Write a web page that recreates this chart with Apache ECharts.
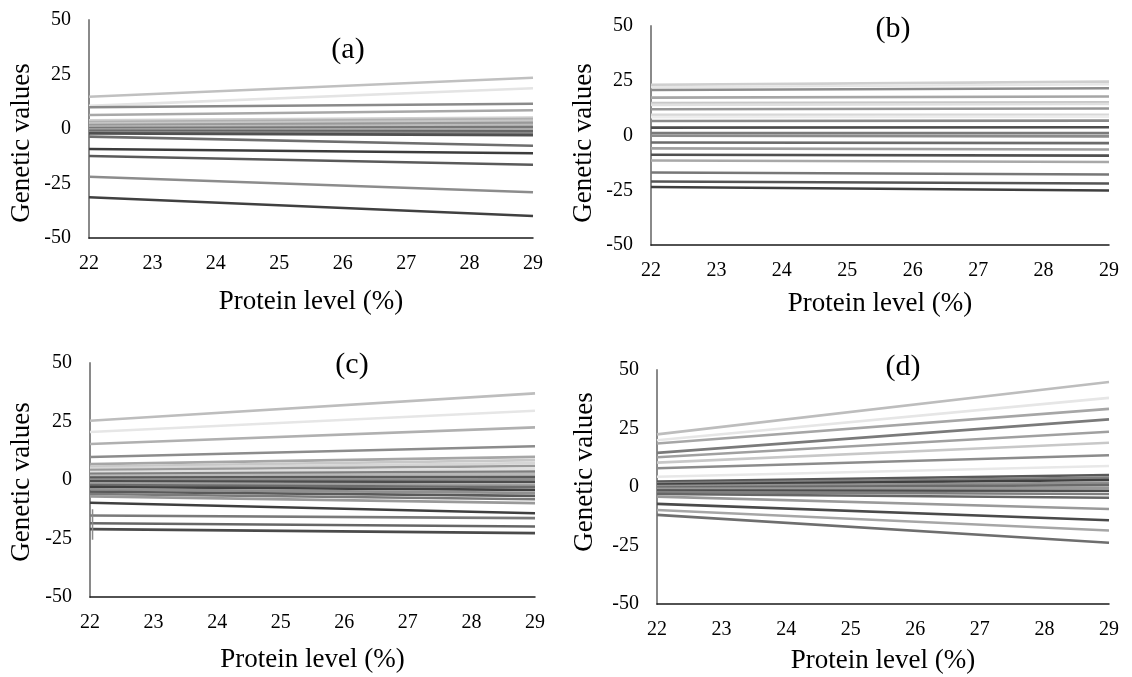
<!DOCTYPE html>
<html>
<head>
<meta charset="utf-8">
<script src="https://cdn.jsdelivr.net/npm/echarts@6/dist/echarts.min.js"></script>
<style>
html,body{margin:0;padding:0;background:#fff;}
#chart{width:1132px;height:677px;}
</style>
</head>
<body>
<div id="chart"></div>
<script>
// ---- data ----
const proteinLevels = [22, 29];
const xTickLabels = [22, 23, 24, 25, 26, 27, 28, 29];
const yTickLabels = [-50, -25, 0, 25, 50];
const panelLabels = ['(a)', '(b)', '(c)', '(d)'];
const xTitle = 'Protein level (%)';
const yTitle = 'Genetic values';

const aStart = [14.8, 10.6, 10.0, 6.4, 4.0, 3.2, 2.5, 1.8, 1.0, 0.4, -0.2, -0.8, -1.4, -2.0, -3.5, -9.2, -12.4, -21.9, -31.3];
const aEnd   = [23.5, 18.7, 11.6, 8.6, 5.2, 4.6, 3.8, 2.8, 1.8, 0.9, -0.1, -1.0, -2.0, -2.8, -7.7, -11.1, -16.4, -29.0, -39.9];

const bStart = [23.1, 22.0, 20.8, 17.3, 14.8, 14.0, 12.0, 9.4, 8.4, 6.6, 3.6, 1.1, -0.1, -3.2, -5.9, -8.8, -11.4, -16.9, -21.0, -23.5];
const bEnd   = [24.6, 23.4, 21.6, 17.8, 15.2, 14.4, 12.3, 9.4, 8.6, 6.8, 3.8, 1.1, -0.4, -3.5, -6.4, -9.2, -12.1, -17.8, -21.9, -25.1];

const cStart = [25.3, 20.5, 15.4, 9.8, 6.8, 5.8, 5.0, 4.2, 3.4, 2.6, 1.8, 1.0, 0.2, -0.6, -1.4, -2.2, -3.0, -4.0, -5.0, -6.0, -7.0, -9.7, -15.2, -18.5, -21.0];
const cEnd   = [37.0, 29.6, 22.5, 14.4, 9.9, 8.5, 7.2, 6.0, 4.8, 3.6, 2.6, 1.4, 0.3, -0.8, -2.0, -3.0, -4.2, -5.5, -6.8, -8.2, -9.9, -14.2, -16.3, -19.9, -22.7];
// short vertical stroke near the left edge of panel (c)
const cTickX = 22.04;
const cTickY = [-12.5, -25.5];

const dStart = [22.5, 20.0, 18.6, 14.6, 12.7, 10.4, 8.0, 4.4, 2.3, 1.6, 1.0, 0.4, -0.2, -0.8, -1.5, -2.2, -3.0, -4.1, -7.2, -9.8, -11.9];
const dEnd   = [44.9, 38.1, 33.4, 28.9, 23.6, 18.9, 13.6, 9.0, 5.1, 4.0, 3.0, 1.8, 0.8, -0.4, -1.6, -3.0, -4.6, -9.4, -14.2, -18.6, -23.8];

// ---- styles ----
const aColors = ['#c0c0c0','#e4e4e4','#8a8a8a','#a8a8a8','#d0d0d0','#b0b0b0','#c8c8c8','#999999','#bbbbbb','#777777','#aaaaaa','#666666','#888888','#505050','#6e6e6e','#3c3c3c','#5a5a5a','#8c8c8c','#404040'];
const bColors = ['#cfcfcf','#e6e6e6','#8c8c8c','#a6a6a6','#c8c8c8','#e0e0e0','#969696','#d8d8d8','#ededed','#8a8a8a','#4d4d4d','#7a7a7a','#8c8c8c','#6b6b6b','#a0a0a0','#505050','#a8a8a8','#777777','#555555','#3f3f3f'];
const cColors = ['#bdbdbd','#e6e6e6','#b0b0b0','#8c8c8c','#a6a6a6','#c8c8c8','#d6d6d6','#9a9a9a','#e0e0e0','#7f7f7f','#b8b8b8','#595959','#8c8c8c','#4d4d4d','#a0a0a0','#6b6b6b','#404040','#909090','#5a5a5a','#7a7a7a','#999999','#3f3f3f','#7a7a7a','#666666','#4a4a4a'];
const dColors = ['#bdbdbd','#e6e6e6','#a6a6a6','#7a7a7a','#a0a0a0','#c8c8c8','#8c8c8c','#e8e8e8','#595959','#7f7f7f','#404040','#909090','#6b6b6b','#999999','#4d4d4d','#808080','#666666','#9a9a9a','#4a4a4a','#a6a6a6','#6e6e6e'];

const FONT = '"Liberation Serif", "Times New Roman", serif';

const panels = [
  {start: aStart, end: aEnd, colors: aColors, grid: {left: 89, top: 20, width: 444, height: 218}, label: {x: 348, y: 50}, yName: {x: 22, y: 143}, xGap: 50},
  {start: bStart, end: bEnd, colors: bColors, grid: {left: 651, top: 26, width: 458, height: 219}, label: {x: 893, y: 29}, yName: {x: 584, y: 143}, xGap: 45},
  {start: cStart, end: cEnd, colors: cColors, grid: {left: 90, top: 363, width: 445, height: 234}, label: {x: 352, y: 365}, yName: {x: 22, y: 482}, xGap: 49},
  {start: dStart, end: dEnd, colors: dColors, grid: {left: 657, top: 370, width: 452, height: 234}, label: {x: 903, y: 367}, yName: {x: 585, y: 472}, xGap: 43}
];

const grid = [], xAxis = [], yAxis = [], series = [], graphic = [];
panels.forEach((p, i) => {
  grid.push(Object.assign({containLabel: false}, p.grid));
  xAxis.push({
    type: 'value', gridIndex: i, min: xTickLabels[0], max: xTickLabels[xTickLabels.length - 1], interval: 1,
    name: xTitle, nameLocation: 'middle', nameGap: p.xGap,
    nameTextStyle: {fontFamily: FONT, fontSize: 27, color: '#000'},
    axisLine: {show: true, onZero: false, lineStyle: {color: '#1a1a1a', width: 1.5}},
    axisTick: {show: false}, splitLine: {show: false},
    axisLabel: {fontFamily: FONT, fontSize: 20, color: '#000', margin: 16}
  });
  yAxis.push({
    type: 'value', gridIndex: i, min: yTickLabels[0], max: yTickLabels[yTickLabels.length - 1], interval: 25,
    axisLine: {show: true, onZero: false, lineStyle: {color: '#8a8a8a', width: 2}},
    axisTick: {show: false}, splitLine: {show: false},
    axisLabel: {fontFamily: FONT, fontSize: 20, color: '#000', margin: 18}
  });
  p.start.forEach((s, k) => {
    series.push({
      type: 'line', xAxisIndex: i, yAxisIndex: i, symbol: 'none', silent: true,
      data: [[proteinLevels[0], s], [proteinLevels[1], p.end[k]]],
      lineStyle: {color: p.colors[k % p.colors.length], width: 2.6}
    });
  });
  graphic.push({
    type: 'text', x: p.label.x, y: p.label.y,
    style: {text: panelLabels[i], font: '30px ' + FONT, fill: '#000', textAlign: 'center', textVerticalAlign: 'middle'}
  });
  graphic.push({
    type: 'text', x: p.yName.x, y: p.yName.y, rotation: Math.PI / 2,
    style: {text: yTitle, font: '27px ' + FONT, fill: '#000', textAlign: 'center', textVerticalAlign: 'middle'}
  });
});

series.push({
  type: 'line', xAxisIndex: 2, yAxisIndex: 2, symbol: 'none', silent: true,
  data: [[cTickX, cTickY[0]], [cTickX, cTickY[1]]],
  lineStyle: {color: '#8a8a8a', width: 1.5}
});

const chart = echarts.init(document.getElementById('chart'), null, {renderer: 'canvas'});
chart.setOption({animation: false, backgroundColor: '#fff', grid, xAxis, yAxis, series, graphic});
</script>
</body>
</html>
